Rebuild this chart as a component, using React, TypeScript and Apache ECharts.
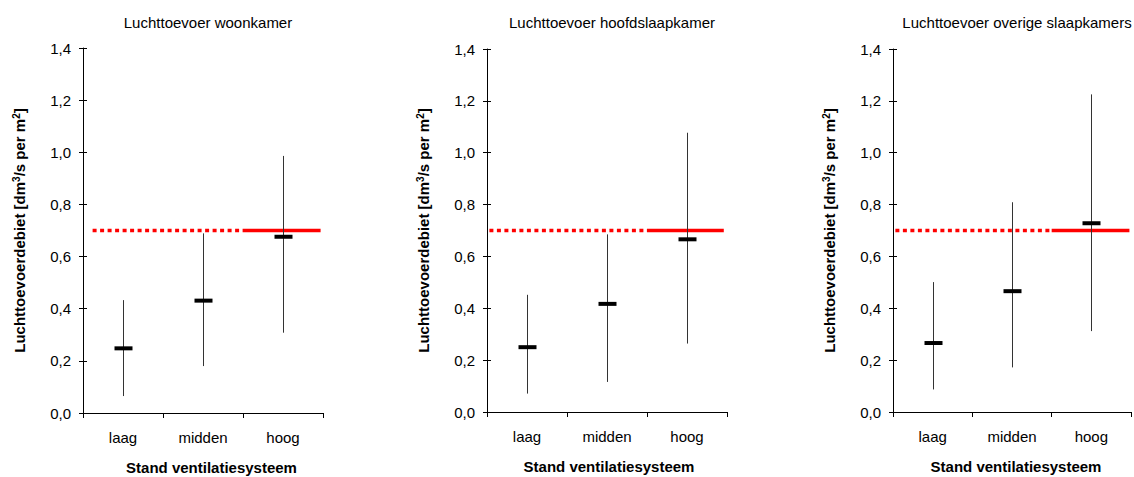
import React, { useEffect, useRef } from "react";
import * as echarts from "echarts";

const categories = ["laag", "midden", "hoog"];
const panelTitles = [
  "Luchttoevoer woonkamer",
  "Luchttoevoer hoofdslaapkamer",
  "Luchttoevoer overige slaapkamers",
];
const minValues = [
  [0.065, 0.18, 0.308],
  [0.071, 0.116, 0.264],
  [0.087, 0.172, 0.312],
];
const maxValues = [
  [0.433, 0.689, 0.986],
  [0.452, 0.685, 1.077],
  [0.501, 0.809, 1.225],
];
const meanValues = [
  [0.248, 0.431, 0.676],
  [0.25, 0.417, 0.666],
  [0.266, 0.466, 0.728],
];
const normValue = 0.7;
const dottedStart = [0.12, 0.03, 0.03];
const dottedEnd = 2;
const solidEnd = [2.97, 2.96, 2.98];
const yMin = 0;
const yMax = 1.4;
const yInterval = 0.2;
const yAxisName = "Luchttoevoerdebiet [dm{sup|3}/s per m{sup|2}]";
const xAxisName = "Stand ventilatiesysteem";

const FONT = "'Liberation Sans', Arial, sans-serif";

const grids = [
  { left: 83, top: 48, width: 240, height: 365 },
  { left: 487, top: 49, width: 240, height: 363 },
  { left: 893, top: 49, width: 238, height: 363 },
];
const xNamePad = [17, 4, 8];

export default function App() {
  const ref = useRef<HTMLDivElement>(null);
  useEffect(() => {
    document.body.style.margin = "0";
    const chart = echarts.init(ref.current!, null, { renderer: "svg" });
    const xAxis: any[] = [];
    const yAxis: any[] = [];
    const series: any[] = [];
    const title: any[] = [];
    grids.forEach((g, k) => {
      title.push({
        text: panelTitles[k],
        left: g.left + g.width / 2,
        top: 10,
        textAlign: "center",
        textStyle: { fontFamily: FONT, fontSize: 15, fontWeight: "normal", color: "#000" },
      });
      xAxis.push({
        gridIndex: k,
        type: "category",
        data: categories,
        boundaryGap: true,
        axisLine: { lineStyle: { color: "#000", width: 1 } },
        axisTick: { show: true, length: 5, lineStyle: { color: "#000" } },
        axisLabel: { fontFamily: FONT, fontSize: 15, color: "#000", margin: 17 },
        splitLine: { show: false },
        name: xAxisName,
        nameLocation: "middle",
        nameGap: 47,
        nameTextStyle: {
          fontFamily: FONT,
          fontSize: 15,
          fontWeight: "bold",
          color: "#000",
          padding: [0, 0, 0, xNamePad[k]],
        },
      });
      xAxis.push({
        gridIndex: k,
        type: "category",
        data: categories,
        boundaryGap: true,
        axisLine: { show: false },
        axisTick: { show: true, inside: true, length: 5, lineStyle: { color: "#000" } },
        axisLabel: { show: false },
        splitLine: { show: false },
      });
      xAxis.push({
        gridIndex: k,
        type: "value",
        min: 0,
        max: 3,
        show: false,
      });
      yAxis.push({
        gridIndex: k,
        type: "value",
        min: yMin,
        max: yMax,
        interval: yInterval,
        axisLine: { show: true, lineStyle: { color: "#000", width: 1 } },
        axisTick: { show: true, length: 4, lineStyle: { color: "#000" } },
        axisLabel: {
          fontFamily: FONT,
          fontSize: 15,
          color: "#000",
          margin: 12,
          formatter: (v: number) => v.toFixed(1).replace(".", ","),
        },
        splitLine: { show: false },
        name: yAxisName,
        nameLocation: "middle",
        nameGap: 55,
        nameTextStyle: {
          fontFamily: FONT,
          fontSize: 15,
          fontWeight: "bold",
          color: "#000",
          lineHeight: 17,
          rich: {
            sup: {
              fontFamily: FONT,
              fontSize: 10,
              fontWeight: "bold",
              color: "#000",
              verticalAlign: "top",
              lineHeight: 10,
            },
          },
        },
      });
      yAxis.push({
        gridIndex: k,
        type: "value",
        position: "left",
        min: yMin,
        max: yMax,
        interval: yInterval,
        axisLine: { show: false },
        axisTick: { show: true, inside: true, length: 4, lineStyle: { color: "#000" } },
        axisLabel: { show: false },
        splitLine: { show: false },
      });
      series.push({
        type: "line",
        xAxisIndex: 3 * k + 2,
        yAxisIndex: 2 * k,
        data: [
          [dottedStart[k], normValue],
          [dottedEnd, normValue],
        ],
        symbol: "none",
        lineStyle: { color: "#ff0000", width: 3.5, type: [4, 3.5] },
        z: 3,
      });
      series.push({
        type: "line",
        xAxisIndex: 3 * k + 2,
        yAxisIndex: 2 * k,
        data: [
          [dottedEnd, normValue],
          [solidEnd[k], normValue],
        ],
        symbol: "none",
        lineStyle: { color: "#ff0000", width: 3.5 },
        z: 3,
      });
      series.push({
        type: "custom",
        xAxisIndex: 3 * k,
        yAxisIndex: 2 * k,
        data: categories.map((_, i) => [i, minValues[k][i], maxValues[k][i], meanValues[k][i]]),
        renderItem: (params: any, api: any) => {
          const x = api.value(0);
          const lo = api.coord([x, api.value(1)]);
          const hi = api.coord([x, api.value(2)]);
          const m = api.coord([x, api.value(3)]);
          const px = Math.round(lo[0]) + 0.5;
          return {
            type: "group",
            children: [
              {
                type: "line",
                shape: { x1: px, y1: lo[1], x2: px, y2: hi[1] },
                style: { stroke: "#333", lineWidth: 1 },
              },
              {
                type: "rect",
                shape: { x: px - 9, y: m[1] - 2, width: 18, height: 4 },
                style: { fill: "#000" },
              },
            ],
          };
        },
        z: 4,
      });
    });
    chart.setOption({
      animation: false,
      backgroundColor: "#fff",
      title,
      grid: grids.map((g) => ({ ...g, containLabel: false, outerBoundsMode: "none" })),
      xAxis,
      yAxis,
      series,
    });
    return () => chart.dispose();
  }, []);
  return <div ref={ref} style={{ width: 1134, height: 477 }} />;
}
